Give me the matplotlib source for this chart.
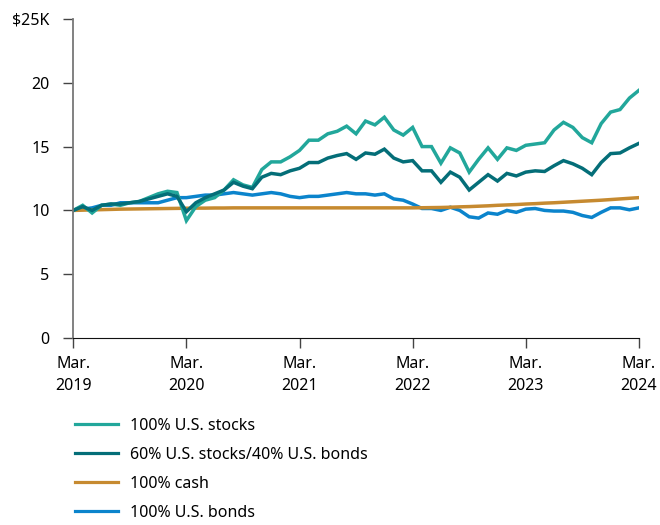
import numpy as np
import matplotlib
matplotlib.use("Agg")
import matplotlib.pyplot as plt

plt.rcParams['font.family'] = ['Noto Sans', 'DejaVu Sans']

# monthly growth of $10K, Mar 2019 .. Mar 2024 (values in $K)
stocks = [10.0, 10.4, 9.8, 10.4, 10.5, 10.4, 10.6, 10.7, 11.0, 11.3,
          11.5, 11.4, 9.2, 10.3, 10.8, 11.0, 11.6, 12.4, 12.0, 11.8,
          13.2, 13.8, 13.8, 14.2, 14.7, 15.5, 15.5, 16.0, 16.2, 16.6,
          16.0, 17.0, 16.7, 17.3, 16.3, 15.9, 16.5, 15.0, 15.0, 13.7,
          14.9, 14.5, 13.0, 14.0, 14.9, 14.0, 14.9, 14.7, 15.1, 15.2,
          15.3, 16.3, 16.9, 16.5, 15.7, 15.3, 16.8, 17.7, 17.9, 18.8,
          19.4]
balanced = [10.0, 10.3, 10.0, 10.4, 10.5, 10.5, 10.6, 10.7, 10.9, 11.1,
            11.3, 11.1, 9.9, 10.6, 11.0, 11.3, 11.6, 12.2, 11.9, 11.7,
            12.6, 12.9, 12.8, 13.1, 13.3, 13.75, 13.75, 14.1, 14.3, 14.45,
            14.0, 14.5, 14.4, 14.8, 14.1, 13.8, 13.9, 13.1, 13.1, 12.2,
            13.0, 12.6, 11.6, 12.2, 12.8, 12.3, 12.9, 12.7, 13.0, 13.1,
            13.05, 13.5, 13.9, 13.65, 13.3, 12.8, 13.75, 14.45, 14.5, 14.9,
            15.25]
cash = [10.0, 10.02, 10.04, 10.06, 10.08, 10.1, 10.11, 10.12, 10.13, 10.14,
        10.15, 10.16, 10.17, 10.18, 10.18, 10.19, 10.19, 10.2, 10.2, 10.2,
        10.2, 10.2, 10.2, 10.2, 10.2, 10.2, 10.2, 10.2, 10.2, 10.2,
        10.2, 10.2, 10.2, 10.2, 10.2, 10.2, 10.2, 10.21, 10.22, 10.23,
        10.25, 10.28, 10.3, 10.33, 10.36, 10.4, 10.43, 10.46, 10.5, 10.53,
        10.57, 10.6, 10.64, 10.68, 10.72, 10.76, 10.8, 10.85, 10.9, 10.95,
        11.0]
bonds = [10.0, 10.1, 10.2, 10.4, 10.4, 10.6, 10.6, 10.6, 10.6, 10.6,
         10.8, 11.0, 11.0, 11.1, 11.2, 11.2, 11.3, 11.4, 11.3, 11.2,
         11.3, 11.4, 11.3, 11.1, 11.0, 11.1, 11.1, 11.2, 11.3, 11.4,
         11.3, 11.3, 11.2, 11.3, 10.9, 10.8, 10.5, 10.15, 10.15, 10.0,
         10.25, 10.0, 9.5, 9.4, 9.8, 9.7, 10.0, 9.85, 10.1, 10.15,
         10.0, 9.95, 9.95, 9.85, 9.6, 9.45, 9.85, 10.2, 10.2, 10.05,
         10.2]

series = [
    ("100% U.S. stocks", stocks, "#22a79b"),
    ("60% U.S. stocks/40% U.S. bonds", balanced, "#046e78"),
    ("100% cash", cash, "#c68a30"),
    ("100% U.S. bonds", bonds, "#0b84cc"),
]
xlabels = ["Mar.\n2019", "Mar.\n2020", "Mar.\n2021", "Mar.\n2022", "Mar.\n2023", "Mar.\n2024"]
ylabels = ["0", "5", "10", "15", "20", "$25K"]

fig = plt.figure(figsize=(6.6, 5.25), dpi=100)
ax = fig.add_axes([0.111, 0.356, 0.857, 0.608])

x = np.arange(len(stocks))
# bonds/cash first so the stock lines sit on top
for name, vals, col in [series[3], series[2], series[0], series[1]]:
    ax.plot(x, vals, color=col, lw=2.5, solid_joinstyle='miter')

ax.set_xlim(0, len(stocks) - 1)
ax.set_ylim(0, 25)
ax.set_xticks(np.arange(0, len(stocks), 12))
ax.set_xticklabels(xlabels, fontsize=11.5, linespacing=1.45)
ax.set_yticks(np.arange(0, 26, 5))
ax.set_yticklabels(ylabels, fontsize=11.5)
ax.tick_params(axis='both', direction='out', length=7, width=1, color='#444444')
ax.tick_params(axis='x', pad=6)
ax.tick_params(axis='y', pad=10)

for s in ['top', 'right']:
    ax.spines[s].set_visible(False)
ax.spines['left'].set_color('#777777')
ax.spines['left'].set_linewidth(1.3)
ax.spines['bottom'].set_color('#111111')

handles = [plt.Line2D([], [], color=c, lw=2.3) for _, _, c in series]
fig.legend(handles, [n for n, _, _ in series], loc='upper left',
           bbox_to_anchor=(0.114, 0.2045), frameon=False, fontsize=11.5,
           handlelength=2.7, handletextpad=0.75, labelspacing=0.82,
           borderpad=0, borderaxespad=0)

fig.savefig("out.png", dpi=100)
